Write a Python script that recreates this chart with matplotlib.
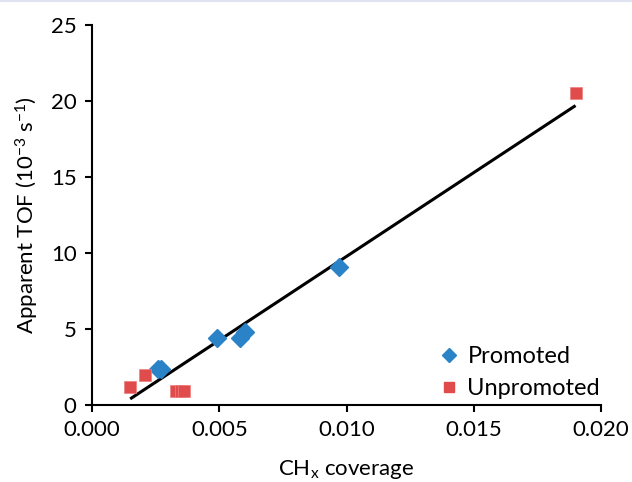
import numpy as np
import matplotlib
matplotlib.use('Agg')
from matplotlib import pyplot as plt
from matplotlib.lines import Line2D

plt.rcParams['font.family'] = ['Lato', 'DejaVu Sans']
plt.rcParams['mathtext.fontset'] = 'custom'
plt.rcParams['mathtext.rm'] = 'Lato'
plt.rcParams['mathtext.it'] = 'Lato:italic'

# promoted catalysts
prom_x = [0.0026, 0.0027, 0.0049, 0.0058, 0.0060, 0.0097]
prom_y = [2.4, 2.4, 4.4, 4.4, 4.8, 9.1]

# unpromoted catalysts
unprom_x = [0.0015, 0.0021, 0.0033, 0.0035, 0.0036, 0.0190]
unprom_y = [1.2, 2.0, 0.9, 0.9, 0.9, 20.5]

# linear trend line end points
fit_x = [0.0015, 0.0190]
fit_y = [0.4, 19.7]

xticks = [0.000, 0.005, 0.010, 0.015, 0.020]
yticks = [0, 5, 10, 15, 20, 25]

blue = '#2a83c6'
red = '#e04b4b'
fs = 16

fig = plt.figure(figsize=(6.32, 4.82), dpi=100)
ax = fig.add_axes([92/632, 77/482, (601-92)/632, (405-25)/482])

ax.plot(fit_x, fit_y, color='black', lw=2.2, zorder=2, solid_capstyle='butt')
ax.plot(prom_x, prom_y, 'D', color=blue, ms=9, mec=blue, zorder=3, label='Promoted')
ax.plot(unprom_x, unprom_y, 's', color=red, ms=8.5, mec='#f08080', mew=0.5, zorder=3, label='Unpromoted')

ax.set_xlim(0, 0.020)
ax.set_ylim(0, 25)
ax.set_xticks(xticks)
ax.set_yticks(yticks)
ax.set_xticklabels(['%.3f' % v for v in xticks])
ax.tick_params(direction='out', length=5, width=1.5, labelsize=fs, colors='black', pad=6)
for s in ['top', 'right']:
    ax.spines[s].set_visible(False)
for s in ['left', 'bottom']:
    ax.spines[s].set_linewidth(1.5)

ax.set_ylabel('Apparent TOF (10$^{-3}$ s$^{-1}$)', fontsize=fs, labelpad=7)
ax.set_xlabel('CH$_\\mathrm{x}$ coverage', fontsize=fs, labelpad=13)

handles = [Line2D([], [], marker='D', ls='none', color=blue, ms=7),
           Line2D([], [], marker='s', ls='none', color=red, ms=7)]
ax.legend(handles, ['Promoted', 'Unpromoted'], loc='lower right', bbox_to_anchor=(1.04, -0.04),
          frameon=False, fontsize=fs + 1, handletextpad=0.2, handlelength=1.2, labelspacing=0.45)

fig.add_artist(Line2D([0, 1], [0.998, 0.998], transform=fig.transFigure, color='#dfe4f0', lw=1.5))

fig.savefig('out.png', dpi=100)
